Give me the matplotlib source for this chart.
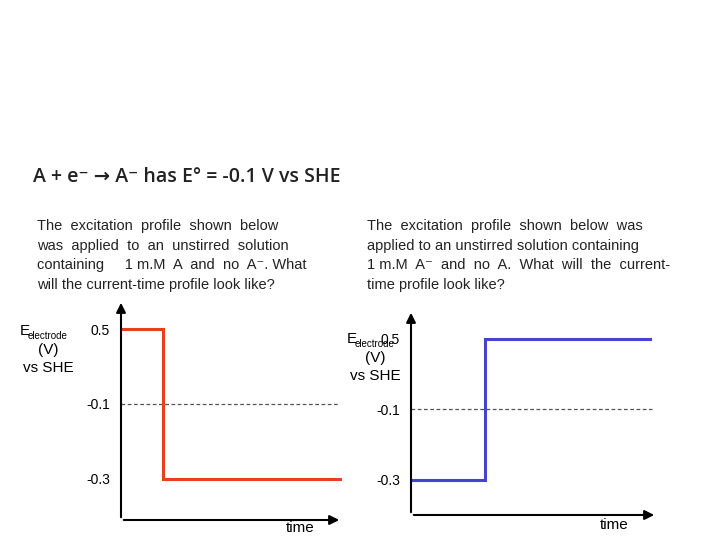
import matplotlib
matplotlib.use("Agg")
import matplotlib.pyplot as plt
import numpy as np

# data
left_t = [0.0, 0.19, 0.19, 0.99]
left_E = [0.5, 0.5, -0.3, -0.3]
right_t = [0.0, 0.30, 0.30, 0.97]
right_E = [-0.3, -0.3, 0.5, 0.5]
yticks = [0.5, -0.1, -0.3]
ytick_labels = ["0.5", "-0.1", "-0.3"]
E0 = -0.1

W, H = 720, 540
fig = plt.figure(figsize=(7.2, 5.4), dpi=100)
def fx(x): return x / W
def fy(y): return 1 - y / H

fig.text(fx(33), fy(177), "A + e\u207b \u2192 A\u207b has E\u00b0 = -0.1 V vs SHE",
         fontsize=14, fontfamily=["Open Sans", "DejaVu Sans"], fontweight="semibold",
         color="#222222", va="center")

left_lines = ["The  excitation  profile  shown  below",
              "was  applied  to  an  unstirred  solution",
              "containing     1 m.M  A  and  no  A\u207b. What",
              "will the current-time profile look like?"]
right_lines = ["The  excitation  profile  shown  below  was",
               "applied to an unstirred solution containing",
               "1 m.M  A\u207b  and  no  A.  What  will  the  current-",
               "time profile look like?"]
for i, (a, b) in enumerate(zip(left_lines, right_lines)):
    y = 226 + i * 19.7
    fig.text(fx(37), fy(y), a, fontsize=10.5, fontfamily=["Liberation Sans", "DejaVu Sans"], va="center", color="#222222")
    fig.text(fx(367), fy(y), b, fontsize=10.5, fontfamily=["Liberation Sans", "DejaVu Sans"], va="center", color="#222222")

def fwd(v):
    v = np.asarray(v, dtype=float)
    return np.where(v < -0.1, (v + 0.3) / 0.2, 1 + (v + 0.1) / 0.6)

def inv(u):
    u = np.asarray(u, dtype=float)
    return np.where(u < 1, -0.3 + 0.2 * u, -0.1 + 0.6 * (u - 1))

def make_axes(x0, x1, ytop, ybot, ylim, t, E, color, labx, laby, timex, timey):
    ax = fig.add_axes([fx(x0), fy(ybot), fx(x1) - fx(x0), fy(ytop) - fy(ybot)])
    ax.set_yscale("function", functions=(fwd, inv))
    ax.set_xlim(0, 1)
    ax.set_ylim(*ylim)
    for s in ax.spines.values():
        s.set_visible(False)
    ax.set_xticks([])
    ax.set_yticks(yticks)
    ax.set_yticklabels(ytick_labels, fontsize=10, fontfamily="Liberation Sans")
    ax.yaxis.set_minor_locator(matplotlib.ticker.NullLocator())
    ax.tick_params(axis="y", length=0, pad=8)
    ax.axhline(E0, color="#555555", lw=0.9, ls=(0, (3, 2)), xmax=0.98)
    ax.plot(t, E, color=color, lw=2.2, solid_joinstyle="miter")
    ax.annotate("", xy=(0, 1), xytext=(0, 0), xycoords="axes fraction",
                arrowprops=dict(arrowstyle="-|>", color="black", lw=1.5, mutation_scale=14))
    ax.annotate("", xy=(1, 0), xytext=(0, 0), xycoords="axes fraction",
                arrowprops=dict(arrowstyle="-|>", color="black", lw=1.5, mutation_scale=14))
    ax.patch.set_alpha(0)
    fig.text(fx(labx), fy(laby), "E", fontsize=11, fontfamily="Liberation Sans", va="center", ha="left")
    fig.text(fx(labx + 8), fy(laby + 5), "electrode", fontsize=7, fontfamily="Liberation Sans", va="center", ha="left")
    fig.text(fx(labx + 28), fy(laby + 19), "(V)", fontsize=11, fontfamily="Liberation Sans", va="center", ha="center")
    fig.text(fx(labx + 28), fy(laby + 37), "vs SHE", fontsize=11, fontfamily="Liberation Sans", va="center", ha="center")
    fig.text(fx(timex), fy(timey), "time", fontsize=11, fontfamily="Liberation Sans", va="center", ha="center")
    return ax

make_axes(121, 342, 300, 520, (-0.41, 0.733), left_t, left_E, "#e8401c", 20, 331, 300, 528)
make_axes(411, 657, 310, 515, (-0.40, 0.747), right_t, right_E, "#4444cc", 347, 339, 614, 525)

fig.savefig("out.png", dpi=100)
